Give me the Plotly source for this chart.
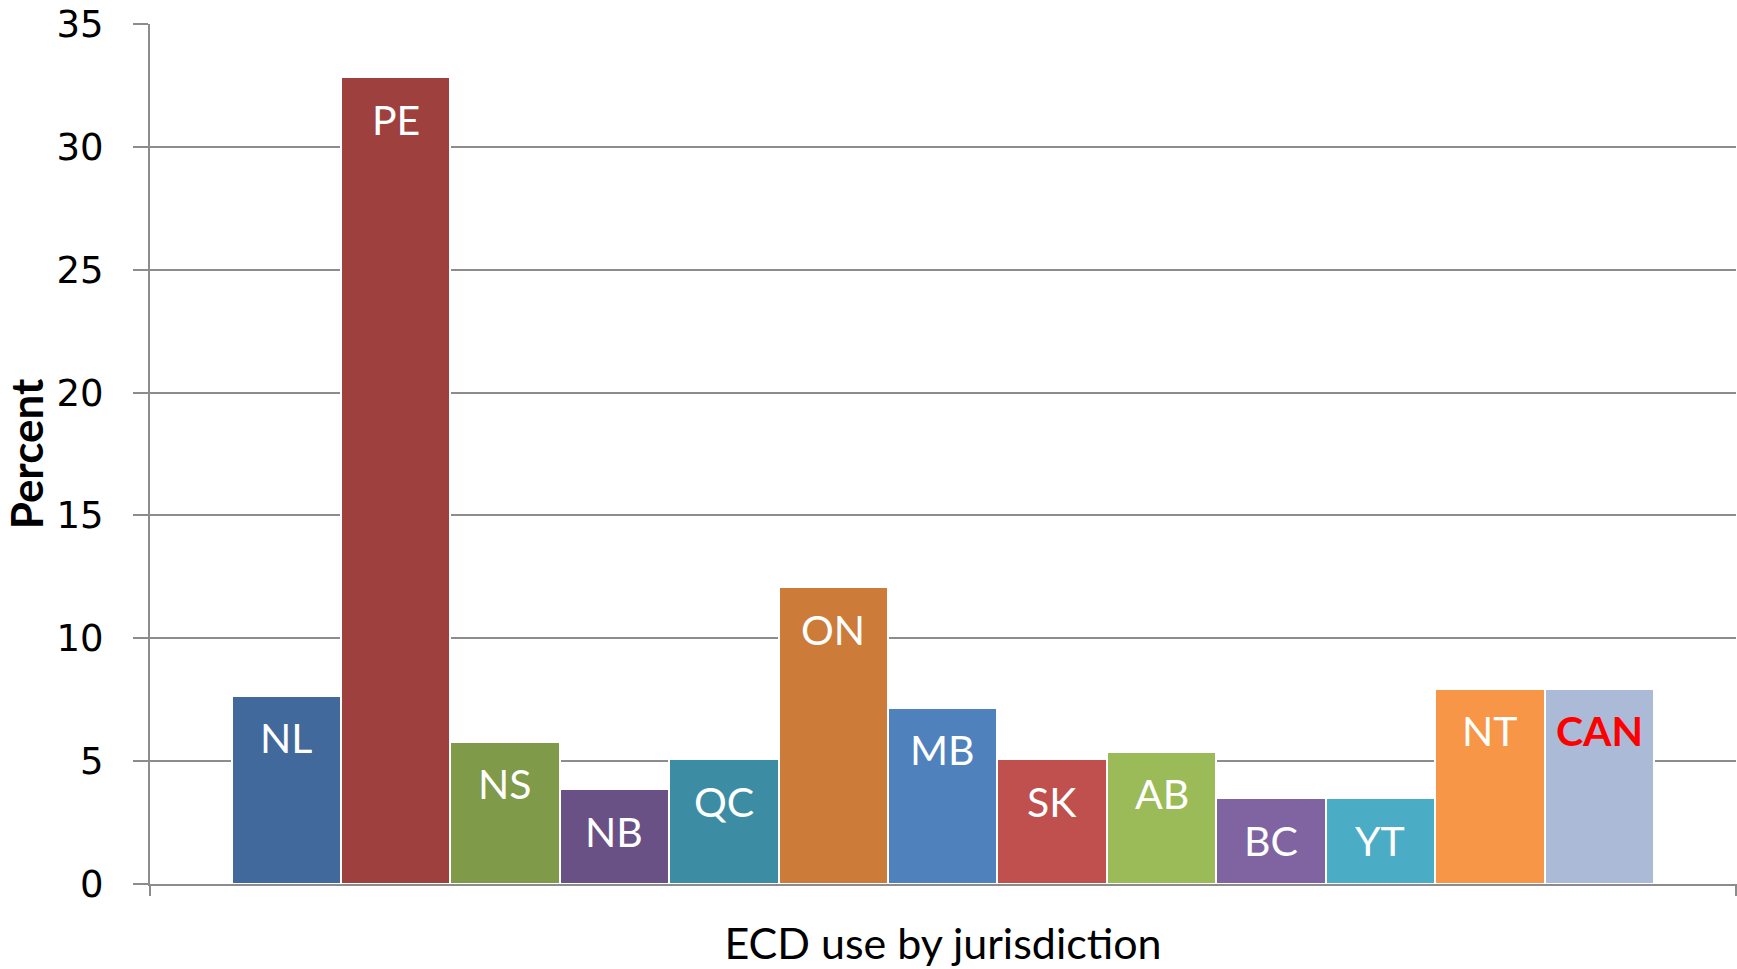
import plotly.graph_objects as go

jurisdictions = ["NL", "PE", "NS", "NB", "QC", "ON", "MB", "SK", "AB", "BC", "YT", "NT", "CAN"]
percent = [7.67, 32.84, 5.79, 3.86, 5.07, 12.07, 7.18, 5.07, 5.38, 3.50, 3.50, 7.94, 7.94]
bar_colors = ["#41699B", "#9E413E", "#7F9A48", "#695185", "#3C8DA3", "#CC7B38", "#4F81BD",
              "#C0504D", "#9BBB59", "#8064A2", "#4BACC6", "#F79646", "#AABAD7"]
label_colors = ["white"] * 12 + ["#FF0000"]
label_bold = [False] * 12 + [True]
y_ticks = [0, 5, 10, 15, 20, 25, 30, 35]

fig = go.Figure()
fig.add_trace(go.Bar(
    x=jurisdictions, y=percent, width=1.0,
    marker=dict(color=bar_colors, line=dict(color="white", width=2)),
    hoverinfo="x+y", showlegend=False,
))

for j, v, c, b in zip(jurisdictions, percent, label_colors, label_bold):
    fig.add_annotation(
        x=j, y=v, xref="x", yref="y", text=f"<b>{j}</b>" if b else j,
        showarrow=False, yanchor="middle", yshift=-42,
        font=dict(family="Lato", size=41, color=c),
    )

grid_col = "#8C8C8C"
fig.update_layout(
    width=1737, height=969,
    margin=dict(l=150, r=1, t=24, b=85),
    paper_bgcolor="white", plot_bgcolor="white",
    bargap=0,
    xaxis=dict(
        range=[-1.245, 13.25], showticklabels=False, showgrid=False, ticks="",
        showline=True, linecolor=grid_col, linewidth=2, mirror=False, automargin=False,
        title=dict(text="ECD use by jurisdiction", font=dict(family="Lato", size=43, color="black"), standoff=44),
    ),
    yaxis=dict(
        range=[0, 35], tickvals=y_ticks, showgrid=True, gridcolor=grid_col, gridwidth=2,
        showline=True, linecolor=grid_col, linewidth=2, automargin=False,
        ticks="outside", ticklen=15, tickcolor=grid_col, tickwidth=2,
        ticklabelstandoff=22, ticklabeloverflow="allow",
        tickfont=dict(family="DejaVu Sans", size=37, color="black"),
        zeroline=False,
        title=dict(text="<b>Percent</b>", font=dict(family="Lato", size=44, color="black"), standoff=35),
    ),
)
# small axis end marks below the baseline (Excel-style category boundaries)
fig.add_shape(type="line", xref="paper", yref="paper", x0=0, x1=0, y0=0, y1=-0.014,
              line=dict(color=grid_col, width=2))
fig.add_shape(type="line", xref="paper", yref="paper", x0=1, x1=1, y0=0, y1=-0.014,
              line=dict(color=grid_col, width=2))

fig.write_html("out.html", config={"displayModeBar": False},
               post_script="document.body.style.margin='0';")
